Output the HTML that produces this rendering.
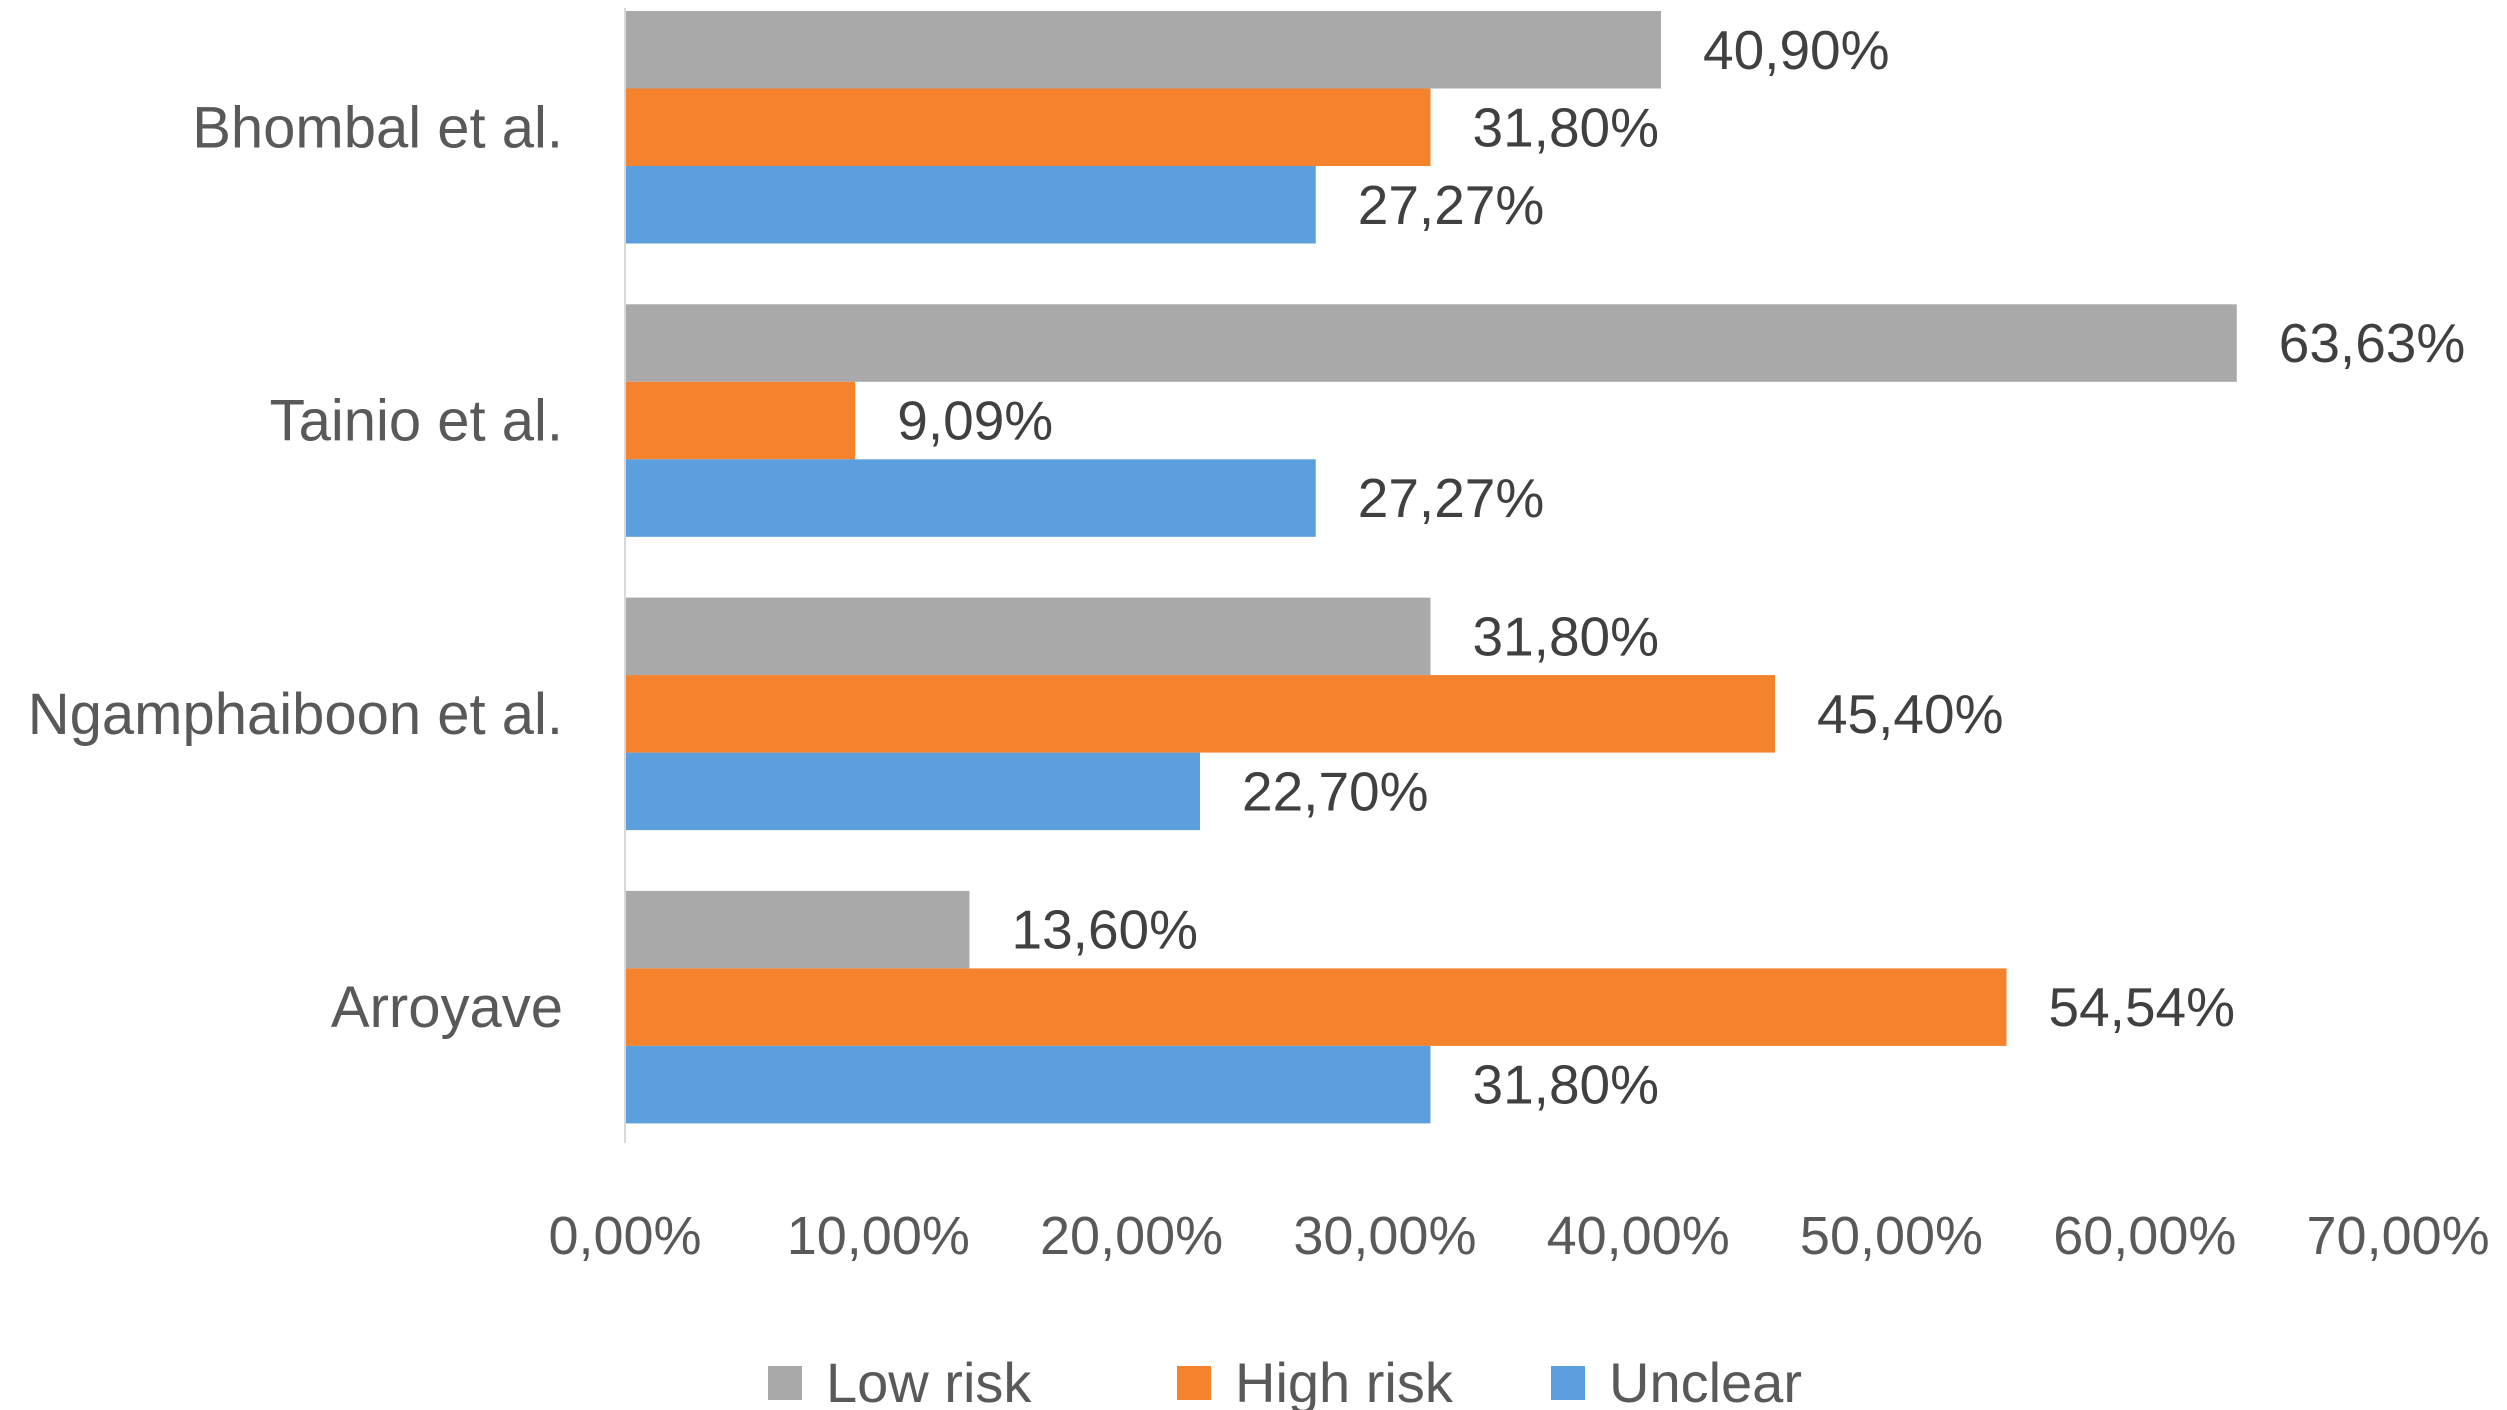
<!DOCTYPE html>
<html><head><meta charset="utf-8"><style>
html,body{margin:0;padding:0;background:#fff;}
svg{display:block;}
text{font-family:"Liberation Sans",sans-serif;}
</style></head>
<body>
<svg id="chart" width="2507" height="1410" viewBox="0 0 2507 1410" xmlns="http://www.w3.org/2000/svg">
<g id="plot"></g>
</svg>
<script>
const categories = ["Bhombal et al.", "Tainio et al.", "Ngamphaiboon et al.", "Arroyave"];
const seriesNames = ["Low risk", "High risk", "Unclear"];
const lowRisk = [40.90, 63.63, 31.80, 13.60];
const highRisk = [31.80, 9.09, 45.40, 54.54];
const unclear = [27.27, 27.27, 22.70, 31.80];
const valueLabelsLow = ["40,90%", "63,63%", "31,80%", "13,60%"];
const valueLabelsHigh = ["31,80%", "9,09%", "45,40%", "54,54%"];
const valueLabelsUnclear = ["27,27%", "27,27%", "22,70%", "31,80%"];
const xTicks = [0, 10, 20, 30, 40, 50, 60, 70];
const xTickLabels = ["0,00%", "10,00%", "20,00%", "30,00%", "40,00%", "50,00%", "60,00%", "70,00%"];

const NS = "http://www.w3.org/2000/svg";
const colors = ["#a9a9a9", "#f5822d", "#5b9fdc"];
const x0 = 625, pxPerPct = 25.33;
const groupTop = 11, groupStep = 293.3, barH = 77.5;
function xScale(v){ return x0 + v * pxPerPct; }
function yBar(ci, si){ return groupTop + ci * groupStep + si * barH; }
const plot = document.getElementById('plot');
function mk(tag, attrs, parent){
  const e = document.createElementNS(NS, tag);
  for (const k in attrs) e.setAttribute(k, attrs[k]);
  (parent || plot).appendChild(e);
  return e;
}
const allSeries = [lowRisk, highRisk, unclear];
const allLabels = [valueLabelsLow, valueLabelsHigh, valueLabelsUnclear];
const keys = ["low-risk", "high-risk", "unclear"];

categories.forEach((cat, ci) => {
  const t = mk('text', {x: 563, y: yBar(ci, 1) + barH/2 + 20, 'text-anchor': 'end', 'font-size': 58, fill: '#595959'});
  
  
  t.textContent = cat;
  allSeries.forEach((s, si) => {
    const y = yBar(ci, si);
    const r = mk('rect', {x: xScale(0), y: y, width: xScale(s[ci]) - xScale(0), height: barH, fill: colors[si]});
    
    
    const vl = mk('text', {x: xScale(s[ci]) + 42, y: y + barH/2 + 19, 'font-size': 55, fill: '#404040'});
    
    
    vl.textContent = allLabels[si][ci];
  });
});

const axis = mk('line', {x1: x0, y1: 8, x2: x0, y2: 1143, stroke: '#d9d9d9', 'stroke-width': 2});



xTicks.forEach((v, i) => {
  const t = mk('text', {x: xScale(v), y: 1254, 'text-anchor': 'middle', 'font-size': 54, fill: '#595959'});
  
  
  t.textContent = xTickLabels[i];
});

const legendX = [768, 1177, 1551];
const legend = mk('g', {});


seriesNames.forEach((n, i) => {
  const sw = mk('rect', {x: legendX[i], y: 1366, width: 34, height: 34, fill: colors[i]}, legend);
  
  
  const t = mk('text', {x: legendX[i] + 58, y: 1402, 'font-size': 56, fill: '#595959'}, legend);
  
  
  t.textContent = n;
});
</script>
</body></html>
